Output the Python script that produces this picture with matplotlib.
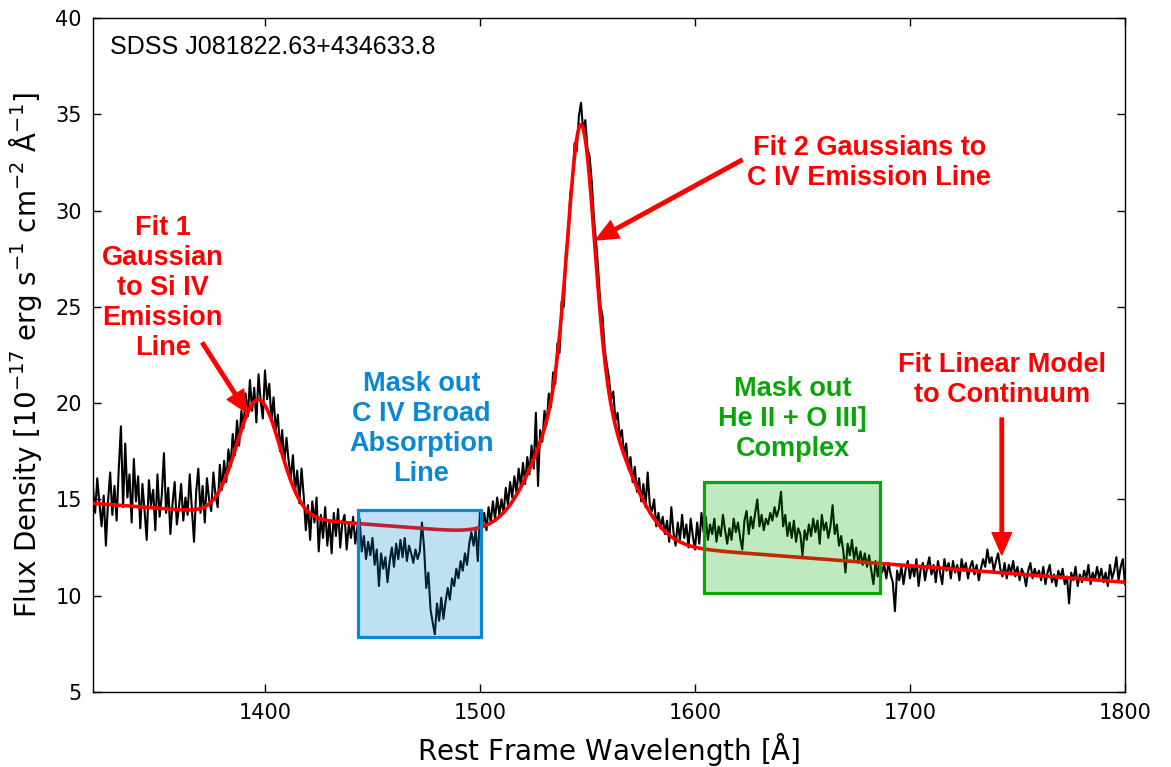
import numpy as np
import matplotlib
matplotlib.use("Agg")
import matplotlib.pyplot as plt
from matplotlib.patches import Rectangle

# Rest-frame wavelength grid [Angstrom], 1 A sampling
wave_start, wave_stop = 1320, 1800

# Observed flux density [1e-17 erg/s/cm^2/A], in 40 A blocks
flux_1320 = [15.6, 14.3, 16.1, 14.8, 13.6, 15.2, 12.6, 14.9, 16.4, 14.2,
             15.7, 13.9, 16.6, 18.8, 14.6, 17.9, 15.1, 16.3, 13.8, 17.1,
             14.9, 16.2, 13.5, 15.8, 14.4, 12.9, 16.0, 14.7, 15.5, 13.4,
             16.3, 14.1, 15.2, 17.4, 14.3, 15.6, 13.2, 14.8, 15.9, 13.7]
flux_1360 = [14.6, 15.8, 13.9, 15.1, 14.2, 16.3, 14.5, 12.8, 15.4, 16.6,
             14.3, 15.7, 13.8, 16.1, 15.0, 14.4, 16.4, 15.2, 14.6, 16.8,
             15.5, 17.0, 15.9, 17.6, 16.7, 18.4, 17.3, 19.1, 17.8, 19.6,
             18.7, 20.5, 19.3, 21.2, 19.6, 20.8, 19.0, 21.5, 20.1, 19.2]
flux_1400 = [21.7, 20.2, 21.0, 19.1, 20.3, 18.6, 19.4, 17.5, 18.6, 16.9,
             18.2, 17.0, 16.1, 17.3, 15.4, 16.5, 14.8, 16.6, 15.2, 13.4,
             14.7, 12.9, 14.9, 13.8, 15.1, 12.3, 14.2, 13.0, 14.6, 12.6,
             13.9, 12.2, 14.3, 13.1, 14.5, 12.5, 13.8, 14.2, 12.4, 13.7]
flux_1440 = [13.0, 14.1, 12.7, 13.6, 14.0, 12.3, 13.1, 11.9, 12.8, 12.1,
             13.0, 11.6, 12.4, 10.5, 12.2, 11.4, 12.0, 10.7, 11.8, 12.5,
             11.5, 12.7, 11.9, 12.9, 12.0, 13.0, 11.8, 12.6, 12.2, 11.7,
             12.4, 11.9, 12.3, 13.8, 12.5, 10.4, 11.2, 9.3, 8.6, 8.0]
flux_1480 = [9.6, 8.7, 9.9, 8.8, 9.7, 10.4, 9.8, 10.9, 10.5, 11.4,
             10.9, 11.8, 11.3, 12.2, 11.6, 12.7, 13.3, 12.6, 13.4, 11.8,
             14.4, 13.6, 14.3, 13.4, 14.6, 13.8, 14.9, 14.0, 15.1, 14.2,
             15.0, 14.3, 15.6, 14.7, 15.9, 15.1, 16.2, 15.3, 16.6, 15.7]
flux_1520 = [16.9, 15.8, 17.2, 16.3, 17.8, 16.6, 19.5, 15.7, 18.6, 18.0,
             19.6, 18.9, 20.5, 19.8, 21.6, 21.0, 23.1, 22.6, 25.3, 25.0,
             27.9, 28.6, 30.9, 31.4, 33.5, 33.1, 34.9, 35.6, 34.1, 34.7,
             33.2, 32.8, 31.5, 29.6, 28.4, 26.9, 25.1, 24.5, 22.8, 22.0]
flux_1560 = [21.3, 20.2, 20.6, 19.1, 19.5, 18.2, 18.6, 17.3, 17.9, 16.6,
             17.2, 15.9, 16.7, 15.4, 16.1, 14.9, 15.8, 14.6, 16.4, 14.7,
             14.4, 15.0, 13.6, 14.3, 13.5, 14.1, 13.2, 13.9, 12.8, 14.6,
             13.3, 12.6, 13.8, 12.9, 14.2, 13.0, 13.7, 12.5, 14.0, 13.1]
flux_1600 = [12.4, 13.8, 12.7, 14.3, 13.3, 14.1, 12.9, 13.7, 13.2, 14.0,
             12.8, 13.6, 13.1, 14.2, 13.4, 12.7, 13.5, 12.9, 14.0, 13.3,
             13.8, 13.0, 12.4, 13.9, 14.4, 13.2, 14.1, 13.5, 14.3, 15.0,
             13.6, 14.2, 13.4, 14.0, 13.7, 14.3, 13.9, 14.6, 14.1, 14.5]
flux_1640 = [15.4, 13.6, 14.2, 13.1, 13.8, 13.0, 13.9, 12.8, 13.5, 13.2,
             12.1, 13.4, 12.9, 13.7, 13.1, 14.0, 13.3, 13.9, 12.7, 14.2,
             13.4, 13.8, 13.0, 13.6, 14.7, 13.2, 13.7, 12.6, 13.1, 12.3,
             11.2, 12.7, 12.1, 12.9, 11.9, 12.5, 11.7, 12.3, 11.6, 12.2]
flux_1680 = [11.5, 12.1, 11.3, 10.6, 11.8, 11.0, 11.9, 11.2, 11.6, 10.9,
             11.7, 11.1, 10.7, 9.2, 11.3, 10.8, 11.5, 10.6, 11.4, 11.8,
             10.9, 11.6, 11.0, 11.9, 10.5, 11.4, 11.7, 10.8, 11.5, 12.0,
             11.1, 11.6, 10.7, 11.8, 11.2, 10.6, 11.9, 11.3, 11.7, 10.9]
flux_1720 = [11.8, 11.2, 11.6, 10.8, 11.9, 11.3, 11.7, 10.9, 11.5, 11.8,
             11.1, 11.6, 10.8, 11.4, 11.9, 11.5, 12.4, 11.7, 12.0, 11.3,
             11.8, 12.2, 11.4, 11.0, 11.7, 10.9, 11.6, 11.2, 11.8, 11.0,
             11.5, 10.8, 11.4, 11.1, 10.5, 11.3, 11.7, 10.9, 11.4, 11.0]
flux_1760 = [11.3, 10.8, 11.5, 10.6, 11.2, 11.6, 10.7, 11.1, 10.5, 11.3,
             10.9, 11.4, 10.6, 11.0, 9.6, 11.2, 10.8, 11.5, 10.5, 11.1,
             10.7, 11.3, 10.9, 11.6, 10.6, 11.2, 10.8, 11.5, 10.9, 11.4,
             10.7, 11.2, 10.5, 11.6, 10.9, 11.3, 12.0, 10.8, 11.5, 11.9,
             10.6]

# Best-fit model parameters
cont_intercept = 14.8      # continuum flux at 1320 A
cont_slope = -0.00854      # per Angstrom
si4_amp, si4_center, si4_sigma = 6.04, 1397.0, 10.0
c4n_amp, c4_center, c4n_sigma = 13.1, 1547.0, 6.0
c4b_amp, c4b_sigma = 8.5, 18.0

# Masked windows (wavelength range, flux range)
bal_mask = (1443.1, 1500.7, 7.85, 14.45)
heii_mask = (1604.4, 1685.9, 10.16, 15.93)

wave = np.arange(wave_start, wave_stop + 1, 1.0)
flux = np.concatenate([flux_1320, flux_1360, flux_1400, flux_1440, flux_1480,
                       flux_1520, flux_1560, flux_1600, flux_1640, flux_1680,
                       flux_1720, flux_1760])


def gauss(x, a, mu, s):
    return a * np.exp(-0.5 * ((x - mu) / s) ** 2)


mwave = np.linspace(wave_start, wave_stop, 2000)
model = (cont_intercept + cont_slope * (mwave - wave_start)
         + gauss(mwave, si4_amp, si4_center, si4_sigma)
         + gauss(mwave, c4n_amp, c4_center, c4n_sigma)
         + gauss(mwave, c4b_amp, c4_center, c4b_sigma))

RED = "#ff0000"
BLUE = "#0a88d2"
GREEN = "#0aa50a"

fig = plt.figure(figsize=(11.71, 7.67), dpi=100)
ax = fig.add_axes([0.0794, 0.0978, 0.8813, 0.8787])

ax.plot(wave, flux, color="black", lw=1.5, zorder=2)
ax.plot(mwave, model, color=RED, lw=2.6, zorder=3)

for (x0, x1, y0, y1), fill, edge in [(bal_mask, (0.0, 0.5, 0.82), BLUE),
                                     (heii_mask, (0.0, 0.66, 0.0), GREEN)]:
    ax.add_patch(Rectangle((x0, y0), x1 - x0, y1 - y0,
                           facecolor=fill + (0.25,), edgecolor="none",
                           zorder=4))
    ax.add_patch(Rectangle((x0, y0), x1 - x0, y1 - y0, facecolor="none",
                           edgecolor=edge, lw=2.3, zorder=5))

ax.set_xlim(wave_start, wave_stop)
ax.set_ylim(5, 40)
ax.set_xticks([1400, 1500, 1600, 1700, 1800])
ax.set_yticks([5, 10, 15, 20, 25, 30, 35, 40])
ax.tick_params(direction="in", length=6, width=1, top=True, right=True,
               labelsize=15, pad=8)
for s in ax.spines.values():
    s.set_linewidth(1.0)

ax.set_xlabel(r"Rest Frame Wavelength [$\mathrm{\AA}$]", fontsize=20,
              labelpad=6)
ax.set_ylabel(r"Flux Density [$10^{-17}$ erg s$^{-1}$ cm$^{-2}$ "
              r"$\mathrm{\AA}^{-1}$]", fontsize=20, labelpad=8)

ax.text(0.0165, 0.957, "SDSS J081822.63+434633.8", transform=ax.transAxes,
        ha="left", va="center", fontsize=18, family="Liberation Sans")

bold = dict(fontsize=19.5, fontweight="bold", family="Liberation Sans",
            ha="center", va="center", multialignment="center", zorder=6)
arrow = dict(facecolor=RED, edgecolor=RED, width=2.5, headwidth=14,
             headlength=16, shrink=0.0)

ax.text(1352.4, 25.98, "Fit 1\nGaussian\nto Si IV\nEmission\nLine",
        color=RED, **bold)
ax.annotate("", xy=(1391.8, 19.49), xytext=(1370.9, 23.13), arrowprops=arrow,
            zorder=6)

ax.text(1681.1, 32.47, "Fit 2 Gaussians to\nC IV Emission Line",
        color=RED, **bold)
ax.annotate("", xy=(1553.8, 28.47), xytext=(1621.9, 32.63), arrowprops=arrow,
            zorder=6)

ax.text(1742.7, 21.2, "Fit Linear Model\nto Continuum", color=RED, **bold)
ax.annotate("", xy=(1742.7, 12.12), xytext=(1742.7, 19.23), arrowprops=arrow,
            zorder=6)

ax.text(1472.8, 18.66, "Mask out\nC IV Broad\nAbsorption\nLine",
        color=BLUE, **bold)
ax.text(1645.5, 19.18, "Mask out\nHe II + O III]\nComplex",
        color=GREEN, **bold)

fig.savefig("out.png", dpi=100)
